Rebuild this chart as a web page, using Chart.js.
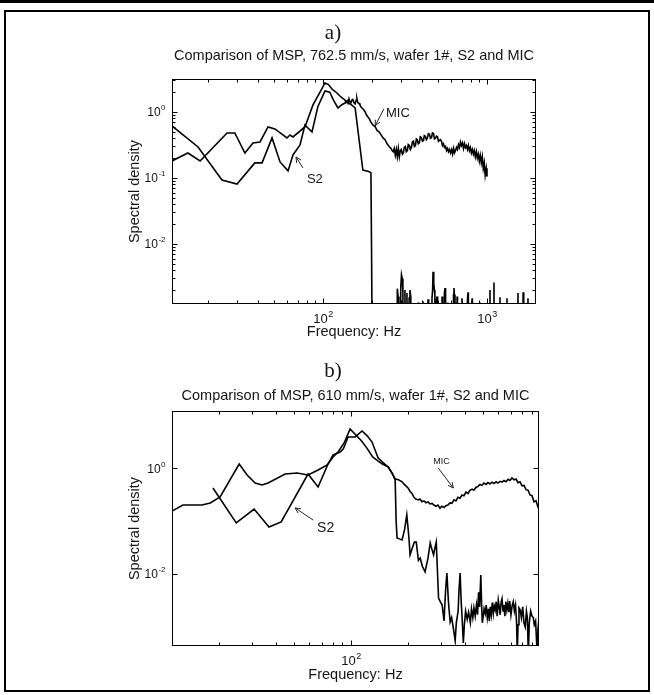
<!DOCTYPE html>
<html>
<head>
<meta charset="utf-8">
<title>Comparison of MSP spectra, S2 and MIC</title>
<script src="https://cdn.jsdelivr.net/npm/chart.js@4/dist/chart.umd.min.js"></script>
<style>
  html, body { margin: 0; padding: 0; background: #fff; }
  #page { position: relative; width: 654px; height: 695px; overflow: hidden; background: #fff; }
  #rule { position: absolute; left: 0; top: 0; width: 654px; height: 3px; background: #000; }
  #frame { position: absolute; left: 4px; top: 10px; width: 646px; height: 682px; box-sizing: border-box; border: 2px solid #000; }
  canvas { position: absolute; left: 0; }
  #cA { top: 0; }
  #cB { top: 340px; }
</style>
</head>
<body>
<div id="page">
  <div id="rule"></div>
  <div id="frame"></div>
  <canvas id="cA" width="654" height="340"></canvas>
  <canvas id="cB" width="654" height="355"></canvas>
</div>
<script>
// ---------- panel a) : 762.5 mm/s ----------  [frequency Hz, spectral density]
const micA = [
  [12.0,0.181],[15.0,0.239],[17.8,0.181],[26.0,0.481],[29.0,0.481],[33.4,0.239],[37.4,0.339],
  [41.3,0.351],[46.2,0.593],[50.9,0.553],[60.3,0.404],[62.9,0.448],[65.6,0.418],[77.6,0.593],
  [86.9,1.28],[95.9,2.0],[102.8,2.75],[108,2.6],[114,2.2],[121.7,1.94],[128,1.7],[136,1.52],
  [138,1.40],[140,1.48],[142,1.36],[144,1.58],[146,1.42],[148,1.38],[150,1.52],[152,1.55],
  [154,1.40],[157,1.33],[159,1.50],[161,1.60],[163,1.38],[166,1.35],[168,1.28],[170,1.20],
  [175,1.12],[180,1.02],[185,0.88],[191,0.80],[196,0.70],[202,0.63],[208,0.60],[214,0.52],
  [220,0.50],[226,0.45],[233,0.40],[239,0.38],[246,0.33],[253,0.30],[260,0.28],[264,0.26],
  [268,0.25],[272,0.28],[276,0.22],[280,0.27],[284,0.21],[288,0.28],[292,0.21],[296,0.26],
  [300,0.27],[305,0.23],[309,0.24],[313,0.29],[318,0.30],[322,0.25],[327,0.26],[331,0.32],
  [336,0.31],[341,0.27],[346,0.29],[351,0.35],[356,0.36],[361,0.30],[366,0.31],[371,0.39],
  [376,0.38],[381,0.33],[387,0.34],[392,0.42],[398,0.41],[404,0.36],[410,0.37],[415,0.44],
  [421,0.43],[427,0.38],[433,0.40],[439,0.47],[446,0.46],[452,0.40],[459,0.41],[465,0.48],
  [472,0.47],[478,0.39],[485,0.40],[492,0.43],[499,0.42],[506,0.36],[513,0.37],[520,0.38],
  [528,0.36],[535,0.31],[543,0.33],[551,0.29],[559,0.30],[567,0.26],[575,0.28],[583,0.25],
  [591,0.27],[600,0.24],[609,0.27],[617,0.23],[626,0.28],[634,0.24],[643,0.26],[652,0.29],
  [661,0.27],[670,0.32],[680,0.29],[689,0.35],[699,0.31],[709,0.34],[719,0.28],[729,0.33],
  [739,0.29],[749,0.31],[760,0.27],[770,0.31],[781,0.26],[792,0.29],[803,0.24],[814,0.27],
  [826,0.23],[837,0.26],[849,0.21],[861,0.25],[873,0.20],[885,0.23],[898,0.18],[910,0.22],
  [923,0.17],[936,0.21],[949,0.14],[962,0.17],[975,0.11],[989,0.14],[1000,0.105]
];
const s2A = [
  [12.0,0.614],[17.3,0.295],[24.2,0.093],[29.9,0.081],[38.4,0.169],[42.5,0.169],[48.9,0.404],
  [54.7,0.175],[61.2,0.128],[65.6,0.223],[72.4,0.316],[77.6,0.635],[85.7,0.498],[93,1.2],
  [102.8,2.08],[110,2.0],[116,1.5],[123.4,1.15],[131,1.3],[140,1.42],[148,1.30],[157,1.15],
  [175,0.132],[190,0.125],[196,0.12],[198,0.005],[201,0.00001],
  [280,0.00001],[284,0.0021],[287,0.0016],[290,0.00001],[294,0.00001],[298,0.0022],[301,0.0034],
  [304,0.0030],[307,0.0019],[310,0.00001],[313,0.00001],[316,0.0020],[319,0.00001],
  [322,0.00001],[325,0.0018],[328,0.00001],[332,0.00001],[335,0.0015],[339,0.0020],[343,0.0016],
  [347,0.00001],[376,0.00001],[380,0.0013],[384,0.00001],[403,0.00001],[407,0.00135],[411,0.00001],
  [430,0.00001],[437,0.00145],[441,0.00001],[458,0.00001],[462,0.0015],[466,0.0020],[469,0.0038],
  [472,0.0022],[475,0.0025],[478,0.0020],[481,0.0017],[484,0.00001],[488,0.00001],[491,0.0014],
  [496,0.0016],[500,0.00001],[528,0.00001],[532,0.0016],[536,0.00001],[546,0.00001],[550,0.0018],
  [555,0.00215],[559,0.00001],[574,0.00001],[578,0.0013],[582,0.00001],[620,0.00001],[625,0.0017],
  [629,0.00215],[633,0.0017],[638,0.0015],[642,0.00001],[653,0.00001],[657,0.0016],[661,0.00001],
  [700,0.00001],[704,0.0015],[708,0.00001],[755,0.00001],[760,0.0014],[766,0.00185],[770,0.00001],
  [806,0.00001],[811,0.0015],[815,0.00001],[900,0.00001],[906,0.0013],[912,0.00001],
  [1035,0.00001],[1043,0.0020],[1050,0.00001],[1095,0.00001],[1103,0.0026],[1110,0.00001],
  [1190,0.00001],[1200,0.00155],[1210,0.00001],[1310,0.00001],[1324,0.0015],[1338,0.00001],
  [1530,0.00001],[1545,0.0018],[1560,0.00001],[1645,0.00001],[1660,0.00185],[1675,0.00001],
  [1765,0.00001],[1778,0.0015],[1790,0.00001]
];
const xDecadesA = [2, 3];       // labelled x ticks, as powers of ten
const yDecadesA = [0, -1, -2];  // labelled y ticks
const rangeA = { xMin: 12, xMax: 1990, yMin: 0.00123, yMax: 3.16 };

// ---------- panel b) : 610 mm/s ----------
const micB = [
  [11.3,0.154],[12.9,0.200],[16.3,0.200],[18.0,0.219],[20.3,0.284],[25.6,1.19],[28.2,0.738],
  [31.1,0.521],[33.8,0.478],[36.4,0.521],[44.8,0.770],[51.8,0.805],[59.2,0.738],[66.9,0.917],
  [74.7,1.14],[80.3,1.61],[85.3,2.0],[92,3.0],[98.8,5.44],[106,4.2],[113,3.3],[121,2.4],
  [130,1.62],[139,1.35],[147,1.18],[157,1.05],[165,0.78],[171,0.62],[178,0.60],
  [186,0.55],[190,0.50],[195,0.46],[200,0.42],[205,0.36],[210,0.33],[215,0.28],[220,0.26],
  [226,0.25],[231,0.26],[237,0.23],[243,0.24],[249,0.22],[255,0.23],[261,0.21],[268,0.215],
  [274,0.20],[281,0.19],[288,0.20],[295,0.175],[302,0.19],[310,0.18],[317,0.195],[325,0.20],
  [333,0.22],[341,0.215],[350,0.25],[358,0.24],[367,0.28],[376,0.27],[386,0.31],[395,0.30],
  [405,0.35],[415,0.33],[425,0.38],[436,0.40],[446,0.38],[457,0.43],[469,0.45],[480,0.49],
  [492,0.47],[504,0.52],[517,0.49],[529,0.53],[542,0.50],[556,0.54],[570,0.51],[584,0.55],
  [598,0.52],[613,0.56],[628,0.54],[643,0.58],[659,0.55],[676,0.61],[692,0.58],[709,0.65],
  [727,0.60],[745,0.62],[763,0.53],[782,0.55],[801,0.46],[821,0.47],[841,0.39],[862,0.38],
  [883,0.31],[905,0.30],[927,0.23],[950,0.24],[974,0.18],[985,0.17]
];
const s2B = [
  [18.6,0.419],[24.7,0.092],[30.7,0.168],[36.8,0.077],[42.7,0.096],[59.2,0.770],[66.9,0.438],
  [75.5,1.19],[80.3,1.76],[87.4,2.0],[91,2.3],[96.4,3.85],[105,3.85],[114.3,4.99],[122,4.0],
  [129,3.09],[139,1.54],[148,1.25],[157,1.04],[165,0.80],[171,0.594],[173,0.10],[175,0.048],
  [180,0.046],[186,0.044],[192,0.07],[197,0.13],[202,0.05],[205,0.023],[210,0.03],[216,0.04],
  [221,0.040],[227,0.018],[232,0.02],[238,0.014],[246,0.011],[255,0.02],[262,0.0385],[267,0.03],
  [273,0.023],[277,0.03],[282,0.040],[290,0.0035],[296,0.0030],[303,0.0026],[310,0.0013],
  [316,0.005],[321,0.0104],[327,0.003],[334,0.00124],[340,0.0015],[348,0.0009],[355,0.00055],
  [360,0.0012],[368,0.002],[372,0.005],[377,0.0104],[382,0.003],[387,0.0013],[392,0.0005],
  [397,0.0011],[403,0.002],[411,0.0014],[418,0.0019],[427,0.0012],[433,0.0022],[440,0.0015],
  [446,0.0023],[453,0.0016],[460,0.0026],[466,0.0017],[472,0.0045],[478,0.0024],[485,0.0096],
  [490,0.0025],[494,0.0012],[500,0.0016],[505,0.0022],[512,0.0018],[518,0.0026],[525,0.0015],
  [532,0.0022],[538,0.0013],[544,0.0024],[551,0.0017],[558,0.0029],[565,0.0018],[571,0.0025],
  [578,0.0021],[585,0.0030],[592,0.0016],[600,0.0032],[607,0.0024],[614,0.0017],[621,0.0029],
  [628,0.0034],[636,0.0020],[643,0.0026],[650,0.0016],[658,0.0030],[666,0.0021],[674,0.0028],
  [682,0.0019],[690,0.0031],[700,0.0017],[710,0.0025],[720,0.0030],[730,0.0020],[740,0.0026],
  [750,0.0012],[756,0.0003],[763,0.0011],[772,0.0023],[784,0.0021],[795,0.0015],[808,0.0024],
  [820,0.0012],[833,0.0010],[845,0.0020],[855,0.0015],[865,0.0003],[875,0.0012],[890,0.0020],
  [905,0.0016],[919,0.0015],[930,0.0011],[945,0.0013],[955,0.0006],[964,0.0003],[972,0.0009],
  [980,0.0012],[985,0.0011]
];
const xDecadesB = [2];
const yDecadesB = [0, -2];
const rangeB = { xMin: 11.3, xMax: 985, yMin: 0.000438, yMax: 11.9 };

const titleA = 'Comparison of MSP, 762.5 mm/s, wafer 1#, S2 and MIC';
const titleB = 'Comparison of MSP, 610 mm/s, wafer 1#, S2 and MIC';

// callouts: tip / tail of the arrow and the text anchor, all in data units
const notesA = [
  { text: 'MIC', size: 13, at: [242, 0.84], tail: [235, 1.11], tip: [208, 0.62] },
  { text: 'S2',  size: 13, at: [79.8, 0.084], tail: [75.5, 0.142], tip: [68.4, 0.208] }
];
const notesB = [
  { text: 'MIC', size: 9,  at: [272, 1.19], tail: [289, 1.0], tip: [347, 0.419] },
  { text: 'S2',  size: 14, at: [66.1, 0.062], tail: [63.0, 0.104], tip: [50.6, 0.176] }
];

const SANS = '"Liberation Sans", Arial, Helvetica, sans-serif';
const SERIF = '"Liberation Serif", "Times New Roman", serif';
const INK = '#151515';

function powerLabel(ctx, exp, x, y, size, align) {
  const base = '10', sup = String(exp);
  const ss = Math.round(size * 0.7);
  ctx.font = size + 'px ' + SANS;
  const wb = ctx.measureText(base).width;
  ctx.font = ss + 'px ' + SANS;
  const ws = ctx.measureText(sup).width;
  const x0 = align === 'right' ? x - wb - ws : x - (wb + ws) / 2;
  ctx.textAlign = 'left';
  ctx.textBaseline = 'alphabetic';
  ctx.font = size + 'px ' + SANS;
  ctx.fillText(base, x0, y);
  ctx.font = ss + 'px ' + SANS;
  ctx.fillText(sup, x0 + wb + 0.5, y - size * 0.5);
}

function logSteps(min, max, withMinor) {
  const out = [];
  for (let d = Math.floor(Math.log10(min)); d <= Math.ceil(Math.log10(max)); d++) {
    for (let m = 1; m <= 9; m++) {
      if (m > 1 && !withMinor) continue;
      const v = m * Math.pow(10, d);
      if (v >= min * 0.9999 && v <= max * 1.0001) out.push({ v, major: m === 1 });
    }
  }
  return out;
}

function drawArrow(ctx, x1, y1, x2, y2) {
  const ang = Math.atan2(y2 - y1, x2 - x1), L = 6, w = 0.45;
  ctx.beginPath();
  ctx.moveTo(x1, y1); ctx.lineTo(x2, y2);
  ctx.moveTo(x2 - L * Math.cos(ang - w), y2 - L * Math.sin(ang - w));
  ctx.lineTo(x2, y2);
  ctx.lineTo(x2 - L * Math.cos(ang + w), y2 - L * Math.sin(ang + w));
  ctx.stroke();
}

// axes box, inward MATLAB-style ticks, labels, titles and callouts
const decor = {
  id: 'decor',
  afterDraw(chart, _args, o) {
    const { ctx, chartArea: a } = chart;
    const xs = chart.scales.x, ys = chart.scales.y;
    ctx.save();
    ctx.strokeStyle = '#000';
    ctx.lineWidth = 1;
    const L = Math.round(a.left) + 0.5, R = Math.round(a.right) - 0.5;
    const T = Math.round(a.top) + 0.5, B = Math.round(a.bottom) - 0.5;
    ctx.strokeRect(L, T, R - L, B - T);

    ctx.beginPath();
    logSteps(xs.min, xs.max, true).forEach(t => {
      const px = Math.round(xs.getPixelForValue(t.v)) + 0.5, len = t.major ? 5 : 3;
      ctx.moveTo(px, B); ctx.lineTo(px, B - len);
      ctx.moveTo(px, T); ctx.lineTo(px, T + len);
    });
    logSteps(ys.min, ys.max, o.yMinor).filter(t => o.yMinor || o.yDecades.includes(Math.round(Math.log10(t.v))))
      .forEach(t => {
        const py = Math.round(ys.getPixelForValue(t.v)) + 0.5, len = t.major ? 5 : 3;
        ctx.moveTo(L, py); ctx.lineTo(L + len, py);
        ctx.moveTo(R, py); ctx.lineTo(R - len, py);
      });
    ctx.stroke();

    ctx.fillStyle = INK;
    o.yDecades.forEach(e => powerLabel(ctx, e, a.left - 7, ys.getPixelForValue(Math.pow(10, e)) + 4.5, 12, 'right'));
    o.xDecades.forEach(e => powerLabel(ctx, e, xs.getPixelForValue(Math.pow(10, e)), a.bottom + 19, 13, 'center'));

    const cx = (a.left + a.right) / 2, cy = (a.top + a.bottom) / 2;
    ctx.textAlign = 'center';
    ctx.font = '14.5px ' + SANS;
    ctx.fillText('Frequency: Hz', cx, a.bottom + o.xLabelGap);
    ctx.fillText(o.title, cx, o.titleY);
    ctx.save();
    ctx.translate(139, cy);
    ctx.rotate(-Math.PI / 2);
    ctx.fillText('Spectral density', 0, 0);
    ctx.restore();
    ctx.font = '21px ' + SERIF;
    ctx.fillText(o.letter, 333, o.letterY);

    ctx.strokeStyle = '#222';
    ctx.lineWidth = 1;
    o.notes.forEach(n => {
      const px = p => [xs.getPixelForValue(p[0]), ys.getPixelForValue(p[1])];
      const [tx, ty] = px(n.tail), [hx, hy] = px(n.tip), [lx, ly] = px(n.at);
      drawArrow(ctx, tx, ty, hx, hy);
      ctx.font = n.size + 'px ' + SANS;
      ctx.textAlign = 'left';
      ctx.fillText(n.text, lx, ly);
    });
    ctx.restore();
  }
};

function series(pairs) {
  return pairs.map(p => ({ x: p[0], y: p[1] }));
}

function makeChart(id, mic, s2, range, pad, xH, deco) {
  const line = { borderColor: '#000', borderWidth: 1.6, pointRadius: 0, tension: 0, fill: false };
  return new Chart(document.getElementById(id), {
    type: 'line',
    data: {
      datasets: [
        Object.assign({ label: 'MIC', data: series(mic) }, line),
        Object.assign({ label: 'S2', data: series(s2) }, line)
      ]
    },
    options: {
      responsive: false,
      animation: false,
      devicePixelRatio: 1,
      layout: { padding: pad },
      plugins: { legend: { display: false }, tooltip: { enabled: false }, decor: deco },
      scales: {
        x: {
          type: 'logarithmic', min: range.xMin, max: range.xMax,
          ticks: { display: false }, grid: { display: false }, border: { display: false },
          afterFit(s) { s.height = xH; }
        },
        y: {
          type: 'logarithmic', min: range.yMin, max: range.yMax,
          ticks: { display: false }, grid: { display: false }, border: { display: false },
          afterFit(s) { s.width = 172; }
        }
      }
    },
    plugins: [decor]
  });
}

makeChart('cA', micA, s2A, rangeA, { top: 79, right: 118, left: 0, bottom: 0 }, 36, {
  title: titleA, titleY: 60, letter: 'a)', letterY: 39, xLabelGap: 32,
  xDecades: xDecadesA, yDecades: yDecadesA, yMinor: true, notes: notesA
});
makeChart('cB', micB, s2B, rangeB, { top: 71, right: 115, left: 0, bottom: 0 }, 49, {
  title: titleB, titleY: 60, letter: 'b)', letterY: 37, xLabelGap: 33,
  xDecades: xDecadesB, yDecades: yDecadesB, yMinor: false, notes: notesB
});
</script>
</body>
</html>
